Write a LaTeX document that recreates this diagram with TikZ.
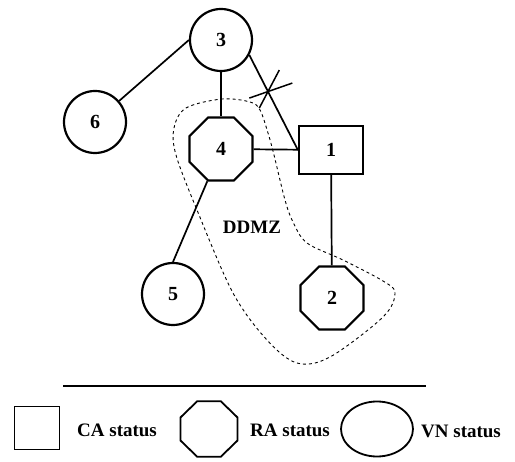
\documentclass[tikz,border=0pt]{standalone}
\usepackage{fontspec}
\setmainfont{Liberation Serif}
\usetikzlibrary{shapes.geometric}
\begin{document}
\begin{tikzpicture}[x=1pt,y=-1pt,
  vn/.style={circle,draw,line width=2.2pt,minimum size=62pt,inner sep=0pt,font=\bfseries\fontsize{20}{20}\selectfont},
  ra/.style={regular polygon,regular polygon sides=8,draw,line width=2.2pt,minimum size=68pt,inner sep=0pt,font=\bfseries\fontsize{20}{20}\selectfont},
  ca/.style={rectangle,draw,line width=2.2pt,minimum width=64pt,minimum height=48pt,inner sep=0pt,font=\bfseries\fontsize{20}{20}\selectfont},
  link/.style={line width=1.7pt},
  lbl/.style={font=\bfseries\fontsize{19}{19}\selectfont,anchor=west,inner sep=0pt}]
\useasboundingbox (0,0) rectangle (515,462);
% nodes
\node[vn] (n3) at (221,40) {3};
\node[vn] (n6) at (95,122) {6};
\node[ra] (n4) at (221,149) {4};
\node[ca] (n1) at (331,150) {1};
\node[vn] (n5) at (173,294) {5};
\node[ra] (n2) at (332,298) {2};
% DDMZ zone
\draw[dashed,line width=0.9pt] plot[smooth cycle,tension=0.55] coordinates {
  (222,99) (250,102) (260,110) (268,133) (274,155) (285,200) (293,222) (307,243)
  (343,260) (383,281) (395,293) (383,317) (330,357) (297,363) (267,340)
  (233,293) (197,210) (176,155) (174,128) (186,108)};
\node[font=\bfseries\fontsize{19}{19}\selectfont] (ddmz) at (252,227) {DDMZ};
% links
\draw[link] (n3.west) -- (n6);
\draw[link] (n3) -- (n4);
\draw[link] (n4) -- (n1);
\draw[link] (n3.-28) -- (n1.west) coordinate[pos=0.39] (cut);
\draw[link] (n1) -- (n2);
\draw[link] (n4.247.5) -- (n5.north);
% cut mark
\draw[line width=1.5pt] ([shift={(-19,6)}]cut) -- ([shift={(24,-9)}]cut);
\draw[line width=1.5pt] ([shift={(11,-22)}]cut) -- ([shift={(-9,16)}]cut);
% legend
\coordinate (la) at (63,386);
\coordinate (lb) at (426,386);
\draw[line width=2pt] (la) -- (lb);
\node[rectangle,draw,line width=1.8pt,minimum width=45pt,minimum height=43pt,inner sep=0pt] (lca) at (37,428) {};
\node[lbl] (tca) at (77,430) {CA status};
\node[regular polygon,regular polygon sides=8,draw,line width=1.8pt,minimum size=60pt,inner sep=0pt,xscale=1.03] (lra) at (209,429) {};
\node[lbl] (tra) at (250,430) {RA status};
\node[ellipse,draw,line width=1.8pt,minimum width=72pt,minimum height=55pt,inner sep=0pt] (lvn) at (377,429) {};
\node[lbl] (tvn) at (421,431) {VN status};
\end{tikzpicture}
\end{document}
